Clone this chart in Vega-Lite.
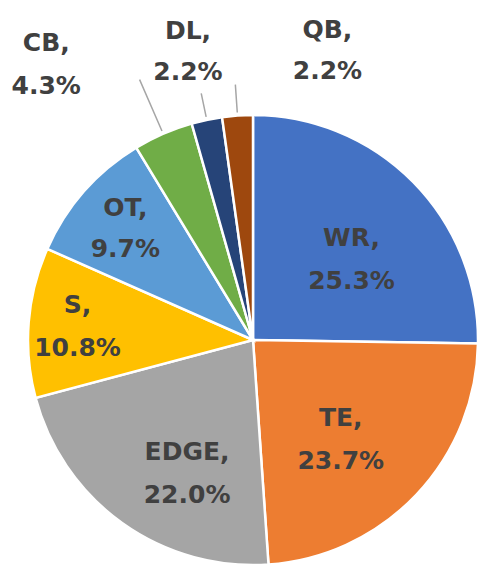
{
  "$schema": "https://vega.github.io/schema/vega-lite/v6.json",
  "width": 450,
  "height": 450,
  "autosize": {"type": "none"},
  "padding": {"left": 28, "top": 115, "right": 0, "bottom": 1},
  "background": "white",
  "config": {"view": {"stroke": null}},
  "data": {"values": [
    {"pos": "WR", "value": 25.3, "order": 1},
    {"pos": "TE", "value": 23.7, "order": 2},
    {"pos": "EDGE", "value": 22.0, "order": 3},
    {"pos": "S", "value": 10.8, "order": 4},
    {"pos": "OT", "value": 9.7, "order": 5},
    {"pos": "CB", "value": 4.3, "order": 6},
    {"pos": "DL", "value": 2.2, "order": 7},
    {"pos": "QB", "value": 2.2, "order": 8}
  ]},
  "transform": [
    {"stack": "value", "groupby": [], "sort": [{"field": "order", "order": "ascending"}], "as": ["v0", "v1"]},
    {"calculate": "(datum.v0 + datum.v1) / 2", "as": "mid"},
    {"calculate": "datum.pos + ',\\n' + format(datum.value, '.1f') + '%'", "as": "label"}
  ],
  "layer": [
    {
      "mark": {"type": "arc", "stroke": "white", "strokeWidth": 2.5},
      "encoding": {
        "theta": {"field": "value", "type": "quantitative", "stack": true},
        "order": {"field": "order", "type": "quantitative", "sort": "ascending"},
        "color": {"field": "pos", "type": "nominal", "legend": null,
          "scale": {"domain": ["WR", "TE", "EDGE", "S", "OT", "CB", "DL", "QB"],
                    "range": ["#4472C4", "#ED7D31", "#A5A5A5", "#FFC000", "#5B9BD5", "#70AD47", "#264478", "#9E480E"]}}
      }
    },
    {
      "transform": [{"filter": "datum.pos === 'CB'"}],
      "mark": {"type": "arc", "radius": 284, "radius2": 228, "stroke": "#A6A6A6", "strokeWidth": 1.5, "fill": "transparent"},
      "encoding": {"theta": {"field": "mid", "type": "quantitative", "stack": null}, "theta2": {"field": "mid"}}
    },
    {
      "transform": [{"filter": "datum.pos === 'DL'"}],
      "mark": {"type": "arc", "radius": 252, "radius2": 228, "stroke": "#A6A6A6", "strokeWidth": 1.5, "fill": "transparent"},
      "encoding": {"theta": {"field": "mid", "type": "quantitative", "stack": null}, "theta2": {"field": "mid"}}
    },
    {
      "transform": [{"filter": "datum.pos === 'QB'"}],
      "mark": {"type": "arc", "radius": 256, "radius2": 228, "stroke": "#A6A6A6", "strokeWidth": 1.5, "fill": "transparent"},
      "encoding": {"theta": {"field": "mid", "type": "quantitative", "stack": null}, "theta2": {"field": "mid"}}
    },
    {
      "transform": [{"filter": "datum.pos === 'WR'"}],
      "mark": {"type": "text", "radius": 127, "dx": 8, "dy": -13, "font": "DejaVu Sans", "fontSize": 25, "fontWeight": "bold", "fill": "#404040", "align": "center", "baseline": "middle", "lineBreak": "\n", "lineHeight": 43},
      "encoding": {"theta": {"field": "mid", "type": "quantitative", "stack": null}, "text": {"field": "label"}}
    },
    {
      "transform": [{"filter": "datum.pos === 'TE'"}],
      "mark": {"type": "text", "radius": 132, "dx": -8, "dy": -13, "font": "DejaVu Sans", "fontSize": 25, "fontWeight": "bold", "fill": "#404040", "align": "center", "baseline": "middle", "lineBreak": "\n", "lineHeight": 43},
      "encoding": {"theta": {"field": "mid", "type": "quantitative", "stack": null}, "text": {"field": "label"}}
    },
    {
      "transform": [{"filter": "datum.pos === 'EDGE'"}],
      "mark": {"type": "text", "radius": 146, "dx": 19, "dy": -7, "font": "DejaVu Sans", "fontSize": 25, "fontWeight": "bold", "fill": "#404040", "align": "center", "baseline": "middle", "lineBreak": "\n", "lineHeight": 43},
      "encoding": {"theta": {"field": "mid", "type": "quantitative", "stack": null}, "text": {"field": "label"}}
    },
    {
      "transform": [{"filter": "datum.pos === 'S'"}],
      "mark": {"type": "text", "radius": 176, "dx": 0, "dy": -21, "font": "DejaVu Sans", "fontSize": 25, "fontWeight": "bold", "fill": "#404040", "align": "center", "baseline": "middle", "lineBreak": "\n", "lineHeight": 43},
      "encoding": {"theta": {"field": "mid", "type": "quantitative", "stack": null}, "text": {"field": "label"}}
    },
    {
      "transform": [{"filter": "datum.pos === 'OT'"}],
      "mark": {"type": "text", "radius": 170, "dx": 0, "dy": -20, "font": "DejaVu Sans", "fontSize": 25, "fontWeight": "bold", "fill": "#404040", "align": "center", "baseline": "middle", "lineBreak": "\n", "lineHeight": 41},
      "encoding": {"theta": {"field": "mid", "type": "quantitative", "stack": null}, "text": {"field": "label"}}
    },
    {
      "transform": [{"filter": "datum.pos === 'CB'"}],
      "mark": {"type": "text", "radius": 335, "dx": -73, "dy": 10, "font": "DejaVu Sans", "fontSize": 25, "fontWeight": "bold", "fill": "#404040", "align": "center", "baseline": "middle", "lineBreak": "\n", "lineHeight": 43},
      "encoding": {"theta": {"field": "mid", "type": "quantitative", "stack": null}, "text": {"field": "label"}}
    },
    {
      "transform": [{"filter": "datum.pos === 'DL'"}],
      "mark": {"type": "text", "radius": 297, "dx": -4, "dy": -18, "font": "DejaVu Sans", "fontSize": 25, "fontWeight": "bold", "fill": "#404040", "align": "center", "baseline": "middle", "lineBreak": "\n", "lineHeight": 41},
      "encoding": {"theta": {"field": "mid", "type": "quantitative", "stack": null}, "text": {"field": "label"}}
    },
    {
      "transform": [{"filter": "datum.pos === 'QB'"}],
      "mark": {"type": "text", "radius": 284, "dx": 94, "dy": -27, "font": "DejaVu Sans", "fontSize": 25, "fontWeight": "bold", "fill": "#404040", "align": "center", "baseline": "middle", "lineBreak": "\n", "lineHeight": 41},
      "encoding": {"theta": {"field": "mid", "type": "quantitative", "stack": null}, "text": {"field": "label"}}
    }
  ]
}
